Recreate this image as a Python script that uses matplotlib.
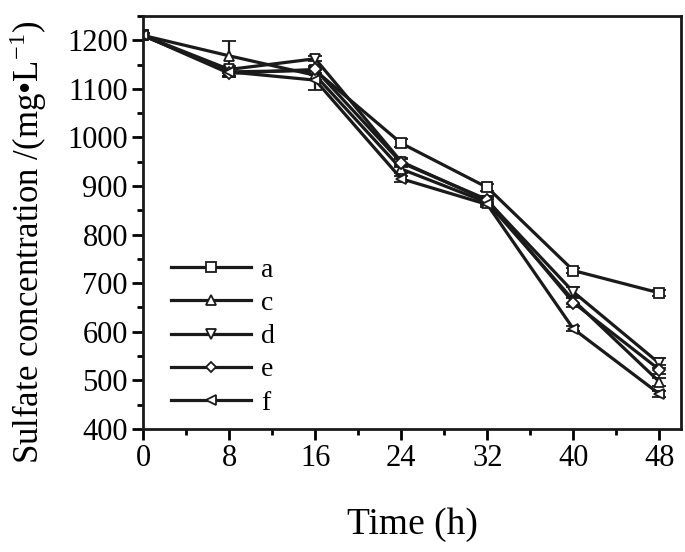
import matplotlib
matplotlib.use("Agg")
import matplotlib.pyplot as plt
from matplotlib.ticker import MultipleLocator

plt.rcParams['font.family'] = ['Liberation Serif', 'DejaVu Serif']
plt.rcParams['mathtext.fontset'] = 'stix'

time_h = [0, 8, 16, 24, 32, 40, 48]
labels = ['a', 'c', 'd', 'e', 'f']
markers = ['s', '^', 'v', 'D', '<']
a_vals = [1210, 1135, 1138, 988, 897, 726, 680]
c_vals = [1210, 1168, 1128, 935, 866, 665, 497]
d_vals = [1210, 1140, 1162, 950, 870, 682, 535]
e_vals = [1210, 1132, 1140, 948, 872, 660, 522]
f_vals = [1210, 1135, 1118, 915, 862, 606, 472]
a_err = [5, 8, 8, 8, 8, 6, 6]
c_err = [5, 30, 10, 8, 8, 8, 8]
d_err = [5, 8, 5, 8, 8, 10, 10]
e_err = [5, 8, 8, 8, 8, 10, 10]
f_err = [5, 8, 20, 6, 6, 5, 6]
series = [a_vals, c_vals, d_vals, e_vals, f_vals]
errs = [a_err, c_err, d_err, e_err, f_err]

fig = plt.figure(figsize=(6.85, 5.52), dpi=100)
ax = fig.add_axes([0.209, 0.223, 0.785, 0.748])

handles = []
for lab, mk, vals, er in zip(labels, markers, series, errs):
    ms = 6 if mk == 'D' else 7.5
    h = ax.errorbar(time_h, vals, yerr=er, color='#1a1a1a', lw=2.3,
                    marker=mk, ms=ms, mfc='white', mec='#1a1a1a', mew=1.3,
                    capsize=5, elinewidth=1.6, capthick=1.6, label=lab)
    handles.append(h)

ax.set_xlim(0, 50)
ax.set_ylim(400, 1250)
ax.xaxis.set_major_locator(MultipleLocator(8))
ax.xaxis.set_minor_locator(MultipleLocator(4))
ax.yaxis.set_major_locator(MultipleLocator(100))
ax.yaxis.set_minor_locator(MultipleLocator(50))
ax.tick_params(which='major', direction='out', length=8, width=2, labelsize=22, pad=3)
ax.tick_params(which='minor', direction='out', length=4.5, width=2)
for s in ax.spines.values():
    s.set_linewidth(2)
    s.set_color('#1a1a1a')

ax.set_xlabel('Time (h)', fontsize=27)
ax.xaxis.set_label_coords(0.5, -0.19)
ax.set_ylabel('Sulfate concentration /(mg•L$^{\\mathregular{-1}}$)', fontsize=25)
ax.yaxis.set_label_coords(-0.176, 0.452)

leg = ax.legend(handles=[h[0] for h in handles], labels=labels, loc='upper left',
                bbox_to_anchor=(0.005, 0.476), frameon=False, fontsize=20,
                handlelength=2.9, handletextpad=0.35, labelspacing=0.28,
                markerscale=0.9)

fig.savefig('out.png', dpi=100)
